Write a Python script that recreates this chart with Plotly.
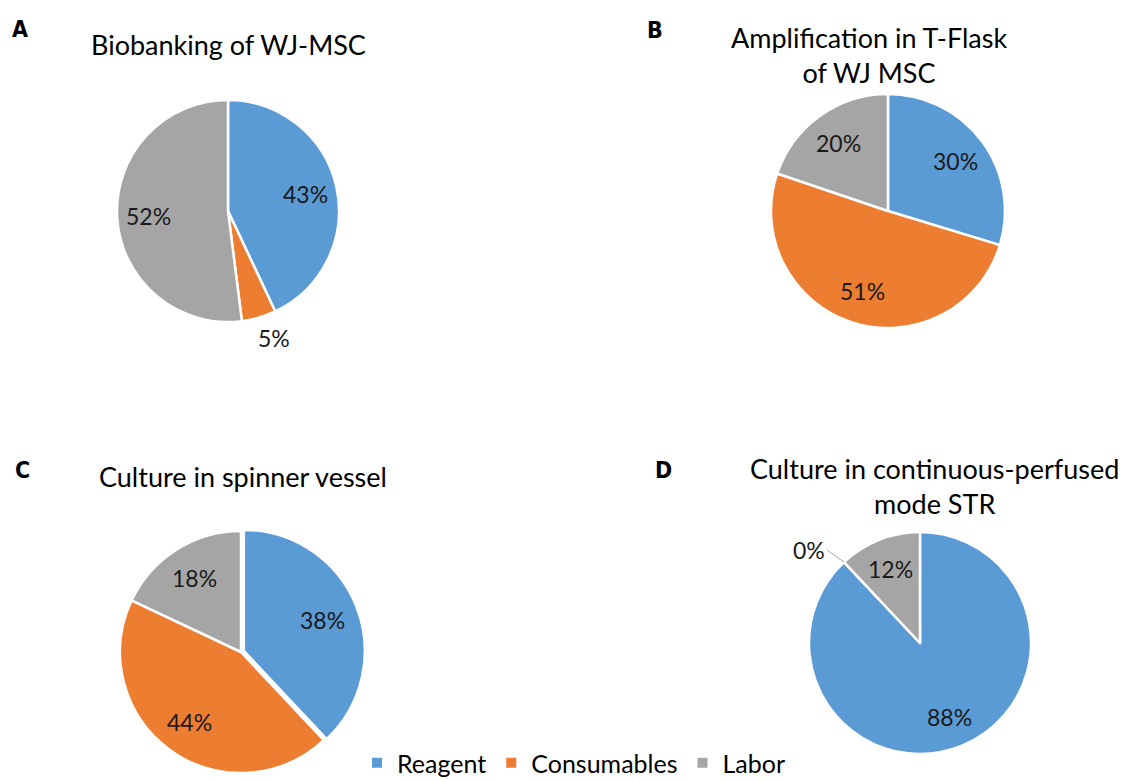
import math
import plotly.graph_objects as go

W, H = 1132, 780

categories = ["Reagent", "Consumables", "Labor"]
colors = ["#5B9BD5", "#ED7D31", "#A5A5A5"]

biobanking = [43, 5, 52]
tflask = [30, 51, 20]
spinner = [38, 44, 18]
perfused = [88, 0, 12]

panel_letters = ["A", "B", "C", "D"]
titles = [
    "Biobanking of WJ-MSC",
    "Amplification in T-Flask<br>of WJ MSC",
    "Culture in spinner vessel",
    "Culture in continuous-perfused<br>mode STR",
]

FONT = "Lato, 'Open Sans', sans-serif"
LETTER_FONT = "'Liberation Sans Narrow', 'DejaVu Sans Condensed', sans-serif"
LABEL_SIZE = 23

# pie layout in pixels: centre x, centre y, radius; label placement per slice
pies = [
    dict(vals=biobanking, cx=228, cy=211, r=111, lab=["in", "out", "in"], pull=[0, 0, 0]),
    dict(vals=tflask, cx=888, cy=211, r=117, lab=["in", "in", "in"], pull=[0, 0, 0]),
    dict(vals=spinner, cx=241, cy=652, r=121, lab=["in", "in", "in"], pull=[0.025, 0, 0]),
    dict(vals=perfused, cx=920, cy=643, r=111, lab=["in", "leader", "in"], pull=[0, 0, 0]),
]


def domain(cx, cy, r, pull):
    rr = r * (1 + max(pull))
    return dict(
        x=[(cx - rr) / W, (cx + rr) / W],
        y=[1 - (cy + rr) / H, 1 - (cy - rr) / H],
    )


def slice_point(p, k, frac):
    """Pixel position at k*radius along the clockwise angle frac (0 = 12 o'clock)."""
    a = 2 * math.pi * frac
    return p["cx"] + k * p["r"] * math.sin(a), p["cy"] - k * p["r"] * math.cos(a)


fig = go.Figure()
annotations = []

for i, p in enumerate(pies):
    fig.add_trace(go.Pie(
        labels=categories,
        values=p["vals"],
        sort=False,
        direction="clockwise",
        rotation=0,
        marker=dict(colors=colors, line=dict(color="white", width=2.5)),
        textinfo="none",
        pull=p["pull"],
        domain=domain(p["cx"], p["cy"], p["r"], p["pull"]),
        showlegend=(i == 0),
        hoverinfo="label+percent",
    ))

    total = sum(p["vals"])
    cum = 0
    for v, mode in zip(p["vals"], p["lab"]):
        mid = (cum + v / 2) / total
        cum += v
        txt = f"{v}%"
        if mode == "in":
            x, y = slice_point(p, 0.72, mid)
        elif mode == "out":
            x, y = slice_point(p, 1.22, mid - 0.01)
        else:
            # zero-size slice: label off to the side with a leader line
            bx, by = slice_point(p, 1.0, mid)
            annotations.append(dict(
                text=txt, x=bx / W, y=1 - by / H, xref="paper", yref="paper",
                showarrow=True, arrowhead=0, arrowwidth=1, arrowcolor="#a6a6a6",
                ax=-17, ay=-12, xanchor="right", yanchor="middle",
                font=dict(family=FONT, size=LABEL_SIZE, color="#1a1a1a"),
            ))
            continue
        annotations.append(dict(
            text=txt, x=x / W, y=1 - y / H, xref="paper", yref="paper",
            showarrow=False, xanchor="center", yanchor="middle",
            font=dict(family=FONT, size=LABEL_SIZE, color="#1a1a1a"),
        ))

# panel letters
letter_pos = [(20, 29), (655, 30), (22, 470), (663, 470)]
for letter, (x, y) in zip(panel_letters, letter_pos):
    annotations.append(dict(
        text=f"<b>{letter}</b>", x=x / W, y=1 - y / H, xref="paper", yref="paper",
        showarrow=False, xanchor="center", yanchor="middle",
        font=dict(family=LETTER_FONT, size=23, color="black"),
    ))

# chart titles
title_pos = [(228, 44), (869, 55), (243, 476), (934, 486)]
for t, (x, y) in zip(titles, title_pos):
    annotations.append(dict(
        text=t, x=x / W, y=1 - y / H, xref="paper", yref="paper",
        showarrow=False, xanchor="center", yanchor="middle",
        font=dict(family=FONT, size=27, color="black"),
    ))

fig.update_layout(
    width=W, height=H,
    margin=dict(l=0, r=0, t=0, b=0, autoexpand=False),
    paper_bgcolor="white",
    plot_bgcolor="white",
    annotations=annotations,
    legend=dict(
        orientation="h", x=(W / 2 + 8) / W, xanchor="center", y=-6 / H, yanchor="bottom",
        font=dict(family=FONT, size=25, color="black"),
        traceorder="normal",
        itemsizing="constant",
    ),
)

fig.write_html("out.html")
